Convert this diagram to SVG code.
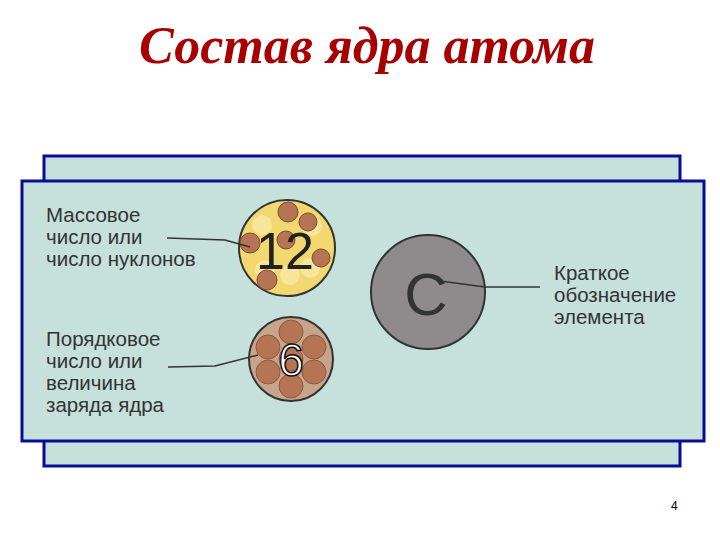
<svg xmlns="http://www.w3.org/2000/svg" width="720" height="540" viewBox="0 0 720 540">
<style>
.t{font-family:"Liberation Sans",Arial,sans-serif;font-size:20.5px;fill:#333}
.ln{stroke:#333;stroke-width:1.5;fill:none}
.bx{fill:#c6e0dc;stroke:#0b0b9a;stroke-width:3}
.nb{font-family:"Liberation Sans",Arial,sans-serif}
</style>
<rect width="720" height="540" fill="#fff"/>
<text x="367" y="63" text-anchor="middle" font-family="'Liberation Serif',serif" font-style="italic" font-weight="bold" font-size="52" fill="#a80000">Состав ядра атома</text>
<rect class="bx" x="44" y="156" width="636" height="310"/>
<rect class="bx" x="22" y="181" width="682" height="260"/>
<g id="n12">
<circle cx="287" cy="248" r="48" fill="#f1d870" stroke="#333" stroke-width="2"/>
<g fill="#f7e59a"><circle cx="262" cy="225" r="10"/><circle cx="312" cy="226" r="10"/><circle cx="290" cy="275" r="10"/><circle cx="265" cy="270" r="10"/><circle cx="310" cy="268" r="10"/></g>
<g fill="#b57454" stroke="#7a4a36"><circle cx="288" cy="212" r="10"/><circle cx="308" cy="222" r="9"/><circle cx="250" cy="243" r="10"/><circle cx="321" cy="258" r="9"/><circle cx="267" cy="280" r="10"/><circle cx="286" cy="240" r="9"/></g>
<text x="285" y="269" text-anchor="middle" class="nb" font-size="52" fill="#222">12</text>
</g>
<g id="n6">
<circle cx="291" cy="359" r="42" fill="#c8a48a" stroke="#333" stroke-width="2"/>
<g fill="#b57454" stroke="#8a5a40"><circle cx="291" cy="332" r="12"/><circle cx="268" cy="347" r="12"/><circle cx="314" cy="347" r="12"/><circle cx="268" cy="372" r="12"/><circle cx="314" cy="372" r="12"/><circle cx="291" cy="386" r="12"/><circle cx="291" cy="359" r="12"/></g>
<text x="291" y="376" text-anchor="middle" class="nb" font-size="46" fill="#fff" stroke="#111" stroke-width="1.5">6</text>
</g>
<g id="nC">
<circle cx="428" cy="292" r="57" fill="#8f8a8c" stroke="#333" stroke-width="2"/>
<text x="426" y="315" text-anchor="middle" class="nb" font-size="60" fill="#333">C</text>
</g>
<g id="labels">
<text class="t"><tspan x="46" y="222">Массовое</tspan><tspan x="46" y="244">число или</tspan><tspan x="46" y="266">число нуклонов</tspan></text>
<text class="t"><tspan x="46" y="346">Порядковое</tspan><tspan x="46" y="368">число или</tspan><tspan x="46" y="390">величина</tspan><tspan x="46" y="412">заряда ядра</tspan></text>
<text class="t"><tspan x="554" y="280">Краткое</tspan><tspan x="554" y="302">обозначение</tspan><tspan x="554" y="324">элемента</tspan></text>
</g>
<g id="connectors">
<path class="ln" d="M167 238 L225 240 L250 247"/>
<path class="ln" d="M168 367 L215 366 L258 355"/>
<path class="ln" d="M440 281 L485 287 L540 287"/>
</g>
<text x="671" y="510" font-family="'Liberation Sans',Arial,sans-serif" font-size="12" fill="#000">4</text>
</svg>
